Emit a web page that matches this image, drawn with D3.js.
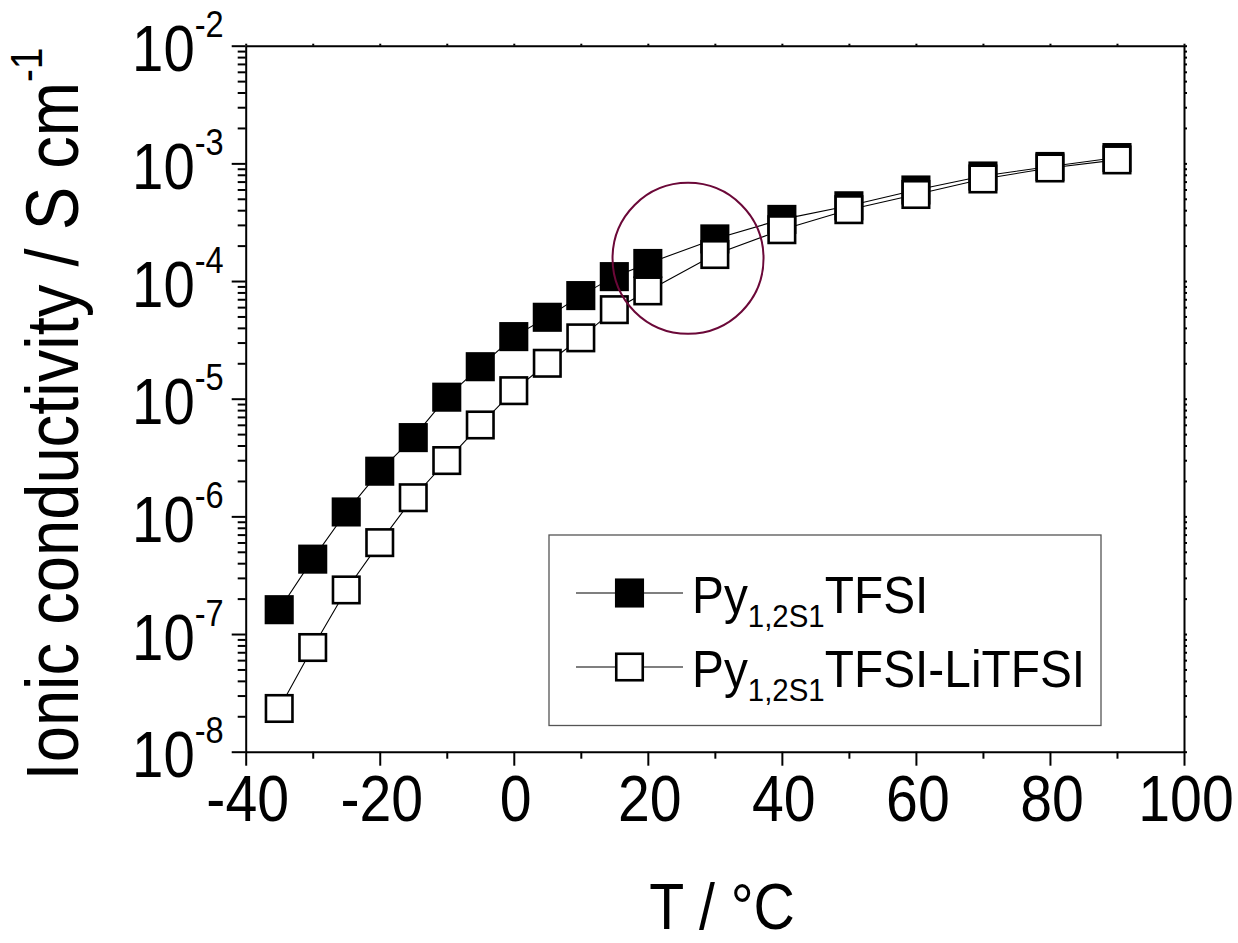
<!DOCTYPE html>
<html>
<head>
<meta charset="utf-8">
<script src="https://cdn.jsdelivr.net/npm/d3@7"></script>
<style>
  html, body { margin: 0; padding: 0; background: #fff; }
  svg { display: block; font-family: "Liberation Sans", Arial, sans-serif; }
</style>
</head>
<body>
<svg id="chart" width="1238" height="943"></svg>
<script>
// Temperature points (°C)
const temperatures = [-35, -30, -25, -20, -15, -10, -5, 0, 5, 10, 15, 20, 30, 40, 50, 60, 70, 80, 90];
// Ionic conductivity (S cm^-1) of the neat ionic liquid
const condNeat = [1.61e-7, 4.33e-7, 1.09e-6, 2.42e-6, 4.67e-6, 1.03e-5, 1.87e-5, 3.37e-5, 4.92e-5, 7.52e-5,
                  1.09e-4, 1.41e-4, 2.28e-4, 3.34e-4, 4.36e-4, 5.94e-4, 7.81e-4, 9.41e-4, 1.12e-3];
// Ionic conductivity (S cm^-1) with LiTFSI added
const condLi = [2.33e-8, 7.68e-8, 2.37e-7, 5.98e-7, 1.44e-6, 2.98e-6, 5.98e-6, 1.17e-5, 2.00e-5, 3.29e-5,
                5.71e-5, 8.24e-5, 1.68e-4, 2.73e-4, 4.04e-4, 5.44e-4, 7.37e-4, 9.14e-4, 1.07e-3];
// Axis ticks
const xTicksMajor = [-40, -20, 0, 20, 40, 60, 80, 100];
const yDecades = [-8, -7, -6, -5, -4, -3, -2];
// Highlighted region (centre in data units)
const highlightT = 26;
const highlightCond = 1.56e-4;
// Legend entries
const seriesNames = ["TFSI", "TFSI-LiTFSI"];

const svg = d3.select("#chart");
const margin = { left: 245.7, right: 1184, top: 45.7, bottom: 751.7 };
const condense = 0.88;   // narrow glyph width used for all labels

const x = d3.scaleLinear().domain([-40, 100]).range([margin.left, margin.right]);
const y = d3.scaleLog().domain([1e-8, 1e-2]).range([margin.bottom, margin.top]);

const yMajor = yDecades.map(e => Math.pow(10, e));
const yMinor = [];
yDecades.slice(0, -1).forEach(e => { for (let m = 2; m <= 9; m++) yMinor.push(m * Math.pow(10, e)); });
const xMinor = d3.range(-30, 100, 20);
const xAll = d3.range(-40, 101, 10);

// ---- axes frame ----
const axisStyle = g => {
  g.select(".domain").attr("stroke", "#000").attr("stroke-width", 2);
  g.selectAll(".tick line").attr("stroke", "#000").attr("stroke-width", 2);
};

// bottom: major ticks with labels
svg.append("g").attr("transform", `translate(0,${margin.bottom})`)
  .call(d3.axisBottom(x).tickValues(xTicksMajor).tickSize(14).tickSizeOuter(0).tickFormat(d3.format("d")))
  .call(axisStyle)
  .call(g => g.selectAll(".tick text")
    .attr("y", 0).attr("dy", 0)
    .attr("transform", `translate(1.5,69) scale(${condense},1)`)
    .attr("font-size", 65).attr("fill", "#000")
    .attr("font-family", "Liberation Sans, Arial, sans-serif")
    .text(d => d < 0 ? "-" + Math.abs(d) : d));
// bottom minor ticks
svg.append("g").attr("transform", `translate(0,${margin.bottom})`)
  .call(d3.axisBottom(x).tickValues(xMinor).tickSize(7).tickSizeOuter(0).tickFormat(""))
  .call(axisStyle)
  .call(g => g.select(".domain").remove());

// left: decade ticks
const leftAxis = svg.append("g").attr("transform", `translate(${margin.left},0)`)
  .call(d3.axisLeft(y).tickValues(yMajor).tickSize(14).tickSizeOuter(0).tickFormat(""))
  .call(axisStyle);
leftAxis.selectAll(".tick text").remove();
leftAxis.selectAll(".tick").each(function (d) {
  const t = d3.select(this).append("text")
    .attr("transform", `translate(-22,25) scale(${condense},1)`)
    .attr("text-anchor", "end").attr("fill", "#000")
    .attr("font-family", "Liberation Sans, Arial, sans-serif");
  t.append("tspan").attr("font-size", 64).text("10");
  t.append("tspan").attr("font-size", 37).attr("dy", -34).text("-" + Math.round(-Math.log10(d)));
});
// left minor ticks
svg.append("g").attr("transform", `translate(${margin.left},0)`)
  .call(d3.axisLeft(y).tickValues(yMinor).tickSize(8).tickSizeOuter(0).tickFormat(""))
  .call(axisStyle)
  .call(g => g.select(".domain").remove());

// top and right mirror axes with small ticks
svg.append("g").attr("transform", `translate(0,${margin.top})`)
  .call(d3.axisTop(x).tickValues(xAll).tickSize(2).tickSizeOuter(0).tickFormat(""))
  .call(axisStyle);
svg.append("g").attr("transform", `translate(${margin.right},0)`)
  .call(d3.axisRight(y).tickValues(yMajor.concat(yMinor)).tickSize(3).tickSizeOuter(0).tickFormat(""))
  .call(axisStyle);

// ---- axis titles ----
const yTitle = svg.append("text")
  .attr("transform", `translate(78,414) rotate(-90) scale(${condense},1)`)
  .attr("text-anchor", "middle").attr("font-size", 74).attr("fill", "#000");
yTitle.append("tspan").text("Ionic conductivity / S cm");
yTitle.append("tspan").attr("font-size", 44).attr("dy", -36).text("-1");

svg.append("text")
  .attr("transform", `translate(722,929) scale(${condense},1)`)
  .attr("text-anchor", "middle").attr("font-size", 65).attr("fill", "#000")
  .text("T / °C");

// ---- series ----
const line = d3.line().x(d => x(d.t)).y(d => y(d.v));
const markerSize = 26.5;

function drawSeries(values, fill) {
  const pts = temperatures.map((t, i) => ({ t, v: values[i] }));
  svg.append("path").datum(pts)
    .attr("d", line).attr("fill", "none").attr("stroke", "#000").attr("stroke-width", 1.1);
  svg.append("g").selectAll("rect").data(pts).join("rect")
    .attr("x", d => x(d.t) - markerSize / 2)
    .attr("y", d => y(d.v) - markerSize / 2)
    .attr("width", markerSize).attr("height", markerSize)
    .attr("fill", fill).attr("stroke", "#000").attr("stroke-width", 2.6);
}
drawSeries(condNeat, "#000");
drawSeries(condLi, "#fff");

// highlight circle
svg.append("circle")
  .attr("cx", x(highlightT)).attr("cy", y(highlightCond)).attr("r", 75.5)
  .attr("fill", "none").attr("stroke", "#6b0838").attr("stroke-width", 2);

// ---- legend ----
const legend = svg.append("g");
legend.append("rect")
  .attr("x", 549).attr("y", 535).attr("width", 552).attr("height", 190.5)
  .attr("fill", "none").attr("stroke", "#555").attr("stroke-width", 1.3);
const legendRows = [{ name: seriesNames[0], fill: "#000", cy: 593 }, { name: seriesNames[1], fill: "#fff", cy: 667 }];
legendRows.forEach(r => {
  legend.append("line").attr("x1", 576).attr("x2", 683).attr("y1", r.cy).attr("y2", r.cy)
    .attr("stroke", "#000").attr("stroke-width", 1.1);
  legend.append("rect")
    .attr("x", 629.5 - markerSize / 2).attr("y", r.cy - markerSize / 2)
    .attr("width", markerSize).attr("height", markerSize)
    .attr("fill", r.fill).attr("stroke", "#000").attr("stroke-width", 2.6);
  const t = legend.append("text")
    .attr("transform", `translate(692,${r.cy + 20}) scale(0.92,1)`)
    .attr("font-size", 52).attr("fill", "#000");
  t.append("tspan").text("Py");
  t.append("tspan").attr("font-size", 32).attr("dy", 14).text("1,2S1");
  t.append("tspan").attr("dy", -14).text(r.name);
});
</script>
</body>
</html>
